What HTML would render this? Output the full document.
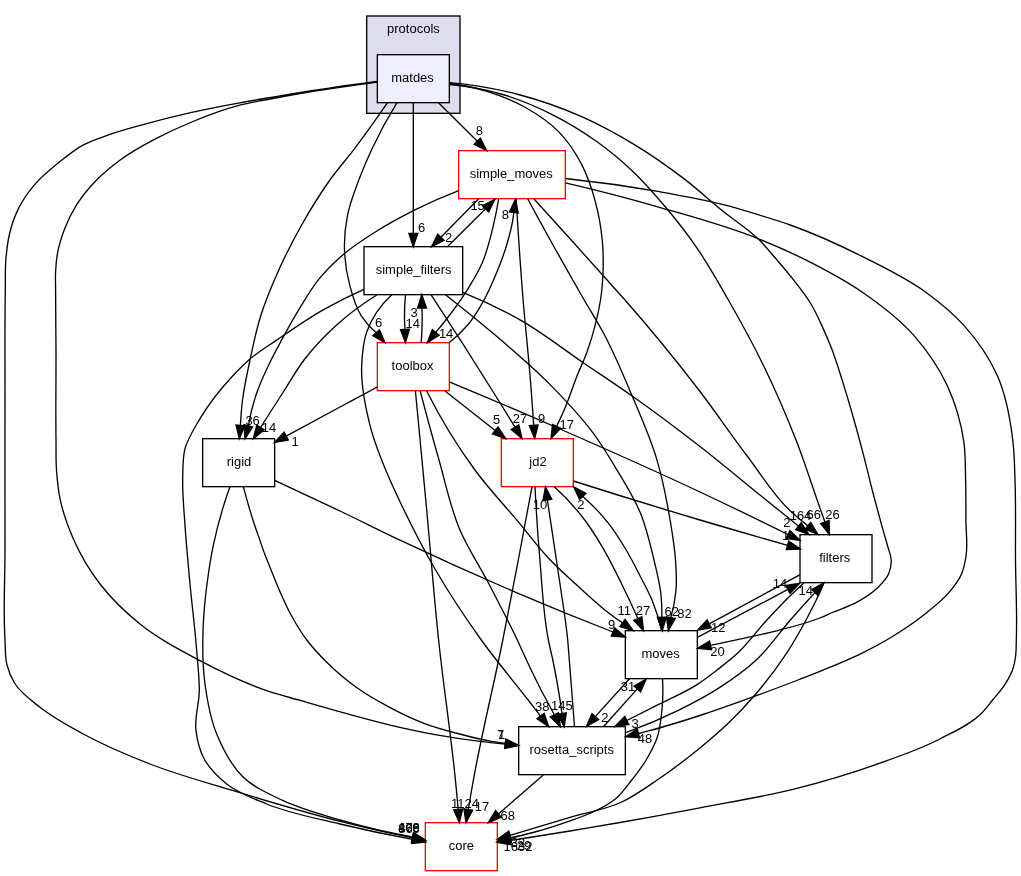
<!DOCTYPE html>
<html><head><meta charset="utf-8"><title>protocols/matdes</title>
<style>
html,body{margin:0;padding:0;background:#fff;}
body{width:1021px;height:876px;overflow:hidden;font-family:"Liberation Sans",sans-serif;}
svg{display:block;will-change:transform}
.t{font-family:"Liberation Sans",sans-serif;font-size:13.33px;fill:#000}
.e{fill:none;stroke:#000;stroke-width:1.33}
.a{fill:#000;stroke:#000;stroke-width:1.33}
</style></head><body>
<svg width="1021" height="876" viewBox="0 0 1021 876">
<rect x="0" y="0" width="1021" height="876" fill="#fff"/>
<rect x="366.7" y="16.0" width="93.3" height="97.3" fill="#ddddee" stroke="#000" stroke-width="1.33"/>
<text transform="translate(413.40,32.80) scale(0.975,1)" text-anchor="middle" class="t">protocols</text>
<rect x="377.33" y="54.67" width="72.00" height="48.00" fill="#eeeeff" stroke="#000" stroke-width="1.33"/>
<text transform="translate(412.53,81.87) scale(0.975,1)" text-anchor="middle" class="t">matdes</text>
<rect x="458.67" y="150.67" width="106.67" height="48.00" fill="#fff" stroke="#ff0000" stroke-width="1.33"/>
<text transform="translate(511.20,177.87) scale(0.975,1)" text-anchor="middle" class="t">simple_moves</text>
<rect x="364.00" y="246.67" width="98.67" height="48.00" fill="#fff" stroke="#000" stroke-width="1.33"/>
<text transform="translate(413.63,273.87) scale(0.975,1)" text-anchor="middle" class="t">simple_filters</text>
<rect x="377.33" y="342.67" width="72.00" height="48.00" fill="#fff" stroke="#ff0000" stroke-width="1.33"/>
<text transform="translate(412.53,369.87) scale(0.975,1)" text-anchor="middle" class="t">toolbox</text>
<rect x="202.67" y="438.67" width="72.00" height="48.00" fill="#fff" stroke="#000" stroke-width="1.33"/>
<text transform="translate(238.97,465.87) scale(0.975,1)" text-anchor="middle" class="t">rigid</text>
<rect x="501.33" y="438.67" width="72.00" height="48.00" fill="#fff" stroke="#ff0000" stroke-width="1.33"/>
<text transform="translate(538.03,465.87) scale(0.975,1)" text-anchor="middle" class="t">jd2</text>
<rect x="800.00" y="534.67" width="72.00" height="48.00" fill="#fff" stroke="#000" stroke-width="1.33"/>
<text transform="translate(834.70,561.87) scale(0.975,1)" text-anchor="middle" class="t">filters</text>
<rect x="625.33" y="630.67" width="72.00" height="48.00" fill="#fff" stroke="#000" stroke-width="1.33"/>
<text transform="translate(660.53,657.87) scale(0.975,1)" text-anchor="middle" class="t">moves</text>
<rect x="518.67" y="726.67" width="106.67" height="48.00" fill="#fff" stroke="#000" stroke-width="1.33"/>
<text transform="translate(571.70,753.87) scale(0.975,1)" text-anchor="middle" class="t">rosetta_scripts</text>
<rect x="425.33" y="822.67" width="72.00" height="48.00" fill="#fff" stroke="#ff0000" stroke-width="1.33"/>
<text transform="translate(461.33,849.87) scale(0.975,1)" text-anchor="middle" class="t">core</text>
<path d="M438.3,102.5 L477.3,141.3" class="e"/>
<polygon points="486.7,150.7 474.1,144.4 480.4,138.1" class="a"/>
<text transform="translate(479.30,135.30) scale(0.975,1)" text-anchor="middle" class="t">8</text>
<path d="M413.3,102.5 L413.3,233.4" class="e"/>
<polygon points="413.3,246.7 408.9,233.4 417.8,233.4" class="a"/>
<text transform="translate(421.70,232.30) scale(0.975,1)" text-anchor="middle" class="t">6</text>
<path d="M397.0,102.7 C387.7,117.7 379.3,133.3 371.8,149.3 C367.1,159.4 362.7,169.6 358.8,180.0 C354.5,191.6 349.9,203.3 347.5,215.3 C345.2,226.8 344.1,238.8 344.5,250.5 C344.9,262.3 346.8,274.4 349.9,285.8 C352.7,296.3 355.7,307.3 361.6,316.3 C365.6,322.3 370.6,328.0 376.2,332.7" class="e"/>
<polygon points="385.0,342.7 372.8,335.7 379.5,329.8" class="a"/>
<text transform="translate(378.60,326.60) scale(0.975,1)" text-anchor="middle" class="t">6</text>
<path d="M387.5,102.7 C376.7,118.5 365.6,134.1 354.0,149.3 C346.1,159.7 337.5,169.4 329.9,180.0 C319.2,195.0 309.5,210.9 300.5,227.0 C292.0,242.3 284.0,258.0 277.0,274.0 C270.9,287.8 265.1,301.9 260.6,316.3 C256.1,330.6 253.1,345.3 250.0,360.0 C247.2,373.3 244.2,386.6 242.5,400.0 C241.5,408.4 240.8,416.9 240.4,425.4" class="e"/>
<polygon points="239.3,438.7 236.0,425.0 244.8,425.8" class="a"/>
<text transform="translate(249.00,424.60) scale(0.975,1)" text-anchor="middle" class="t">3</text>
<path d="M449.4,83.5 C462.1,84.9 474.8,87.6 487.0,91.3 C499.9,95.3 512.8,100.4 524.6,107.0 C536.9,113.9 549.4,122.0 559.1,132.1 C567.8,141.1 575.2,152.2 581.1,163.4 C587.3,175.2 591.7,188.2 595.2,201.1 C598.8,214.3 601.2,228.1 602.4,241.8 C603.3,252.2 603.4,262.8 603.0,273.2 C602.6,282.2 601.9,291.1 600.5,300.0 C599.4,307.1 597.9,314.1 596.2,321.1 C593.7,331.5 590.7,341.9 587.0,352.0 C584.1,360.1 580.2,367.9 577.0,375.9 C572.8,386.5 569.5,397.5 565.0,408.0 C562.4,414.2 559.5,420.3 556.6,426.4" class="e"/>
<polygon points="551.0,438.5 552.5,424.5 560.6,428.2" class="a"/>
<text transform="translate(566.70,429.30) scale(0.975,1)" text-anchor="middle" class="t">17</text>
<path d="M449.4,84.5 C467.4,86.1 485.4,89.4 502.7,94.5 C518.8,99.2 534.6,105.9 549.7,113.3 C566.0,121.3 581.9,130.9 596.7,141.5 C610.0,151.0 622.6,161.6 634.4,172.9 C645.6,183.6 655.7,195.4 665.7,207.3 C676.7,220.4 687.3,234.0 697.0,248.1 C708.5,264.7 718.3,282.5 728.4,300.0 C740.7,321.5 752.7,343.3 763.5,365.5 C775.7,390.6 786.8,416.3 796.9,442.3 C805.4,464.3 812.4,486.9 820.3,509.1 C821.8,513.4 823.4,517.7 824.9,522.0" class="e"/>
<polygon points="829.4,534.5 820.7,523.5 829.1,520.5" class="a"/>
<text transform="translate(832.40,518.60) scale(0.975,1)" text-anchor="middle" class="t">26</text>
<path d="M449.4,82.6 C472.7,84.6 495.9,88.6 518.4,94.5 C539.7,100.1 560.9,107.5 581.1,116.4 C599.4,124.5 617.2,134.2 634.4,144.6 C651.7,155.1 668.4,166.8 684.5,179.1 C697.4,189.0 709.4,200.2 722.1,210.5 C734.5,220.6 748.4,229.0 759.7,240.3 C765.8,246.5 771.3,253.4 777.0,260.0 C782.8,266.8 788.6,273.6 794.1,280.6 C800.1,288.3 806.3,296.1 811.3,304.5 C815.2,311.1 818.4,318.1 821.6,325.1 C825.3,333.0 828.7,341.0 831.8,349.1 C835.7,359.2 838.8,369.6 842.1,379.9 C845.7,391.3 849.1,402.7 852.4,414.2 C856.0,426.7 859.4,439.2 862.7,451.8 C866.3,465.5 869.4,479.3 873.0,493.0 C876.3,505.6 879.7,518.1 883.2,530.6 C884.7,536.0 886.4,541.3 887.8,546.7 C889.1,551.5 891.3,556.3 891.3,561.1 C891.3,565.2 890.3,569.6 888.8,573.4 C886.5,578.9 881.8,583.5 877.5,587.8 C871.6,593.6 864.3,598.2 857.0,602.2 C849.2,606.5 840.5,609.0 832.3,612.5 C828.1,614.3 824.0,616.3 819.8,618.0 C805.9,623.6 791.2,627.1 776.7,630.8 C763.7,634.1 750.6,636.7 737.5,639.6 C728.5,641.6 719.5,643.5 710.5,645.4" class="e"/>
<polygon points="697.5,648.2 709.6,641.0 711.5,649.7" class="a"/>
<text transform="translate(717.50,656.40) scale(0.975,1)" text-anchor="middle" class="t">20</text>
<path d="M377.3,82.0 C364.9,83.7 352.4,85.5 340.0,87.3 C326.7,89.3 313.3,91.2 300.0,93.5 C290.0,95.2 280.0,97.1 270.0,99.0 C259.9,101.0 249.7,102.6 239.8,105.2 C223.4,109.4 207.4,115.5 191.8,122.0 C179.6,127.0 167.6,132.5 155.9,138.7 C143.5,145.2 131.1,152.0 119.9,160.3 C111.5,166.5 103.2,173.2 95.9,180.7 C88.8,188.0 82.1,196.1 76.7,204.7 C72.0,212.2 67.9,220.4 64.7,228.7 C61.7,236.4 59.1,244.5 57.6,252.7 C56.4,259.0 55.9,265.4 55.6,271.8 C55.3,277.9 55.6,283.9 55.6,290.0 C55.6,310.0 55.9,330.0 56.0,350.0 C56.1,380.0 55.6,410.0 56.0,440.0 C56.1,450.0 55.8,460.0 56.5,470.0 C57.2,479.6 58.1,489.3 60.0,498.7 C62.8,512.4 67.7,525.9 73.3,538.7 C80.3,554.7 89.4,570.2 100.0,584.0 C111.4,598.8 125.4,612.2 140.0,624.0 C158.1,638.6 179.3,649.7 200.0,660.7 C221.5,672.1 243.7,682.9 266.7,690.7 C277.6,694.4 288.9,697.2 300.0,700.4 C315.0,704.7 330.0,709.1 345.0,713.2 C360.0,717.3 375.0,721.5 390.1,725.1 C405.0,728.6 420.0,731.9 435.1,734.6 C450.1,737.3 465.1,739.6 480.2,741.4 C488.5,742.4 496.9,743.3 505.2,744.0" class="e"/>
<polygon points="518.5,745.4 504.8,748.4 505.7,739.6" class="a"/>
<text transform="translate(500.50,739.20) scale(0.975,1)" text-anchor="middle" class="t">7</text>
<path d="M377.3,81.5 C364.9,83.1 352.4,84.7 340.0,86.5 C331.1,87.8 322.3,89.1 313.4,90.5 C302.3,92.2 291.1,94.1 280.0,96.0 C266.6,98.2 253.2,100.4 239.8,102.8 C223.8,105.7 207.7,108.8 191.8,112.4 C175.7,116.0 159.8,120.0 143.9,124.4 C131.8,127.8 119.7,131.0 107.9,135.2 C99.8,138.1 91.4,140.7 83.9,144.7 C75.4,149.2 67.6,155.5 60.0,161.5 C51.6,168.2 43.0,175.1 36.0,183.1 C29.6,190.4 23.6,198.5 19.2,207.1 C14.9,215.3 11.8,224.5 9.6,233.5 C7.7,241.3 6.8,249.5 6.0,257.5 C5.0,268.3 5.5,279.2 5.3,290.0 C4.7,326.7 5.1,363.3 5.0,400.0 C4.9,450.0 5.0,500.0 5.0,550.0 C5.0,580.0 3.1,610.1 5.0,640.0 C5.5,648.3 4.9,657.0 7.0,665.0 C8.6,671.2 11.2,677.5 14.5,683.0 C20.4,692.9 30.9,700.0 40.0,707.3 C53.2,717.9 68.4,725.9 83.3,734.0 C104.7,745.6 127.3,755.2 150.0,764.0 C177.1,774.6 205.4,782.2 233.3,790.7 C268.7,801.5 304.1,812.3 340.0,821.3 C364.0,827.3 388.2,832.8 412.5,837.8" class="e"/>
<polygon points="425.5,840.7 411.5,842.1 413.5,833.4" class="a"/>
<text transform="translate(409.00,832.10) scale(0.975,1)" text-anchor="middle" class="t">479</text>
<path d="M478.5,199.0 L440.9,237.2" class="e"/>
<polygon points="431.5,246.7 437.7,234.1 444.0,240.3" class="a"/>
<text transform="translate(448.70,242.10) scale(0.975,1)" text-anchor="middle" class="t">2</text>
<path d="M447.4,246.7 L485.6,208.7" class="e"/>
<polygon points="495.0,199.3 488.7,211.9 482.4,205.6" class="a"/>
<text transform="translate(477.60,210.10) scale(0.975,1)" text-anchor="middle" class="t">15</text>
<path d="M498.6,199.0 C497.1,208.3 495.3,217.5 493.1,226.6 C490.1,238.9 487.2,251.5 482.2,263.1 C477.8,273.3 471.7,283.0 465.7,292.4 C460.1,301.2 453.8,309.7 447.4,318.0 C443.6,322.9 439.7,327.7 435.7,332.4" class="e"/>
<polygon points="427.3,342.7 432.3,329.6 439.2,335.2" class="a"/>
<text transform="translate(446.10,337.70) scale(0.975,1)" text-anchor="middle" class="t">14</text>
<path d="M449.3,342.5 C455.9,337.4 462.1,331.6 467.5,325.3 C473.2,318.6 477.8,310.9 482.2,303.3 C487.9,293.4 492.5,282.9 496.8,272.3 C501.0,262.1 504.8,251.8 507.8,241.2 C510.0,233.4 512.1,225.5 513.2,217.4 C513.4,215.8 513.6,214.2 513.8,212.5" class="e"/>
<polygon points="515.4,199.3 518.2,213.1 509.4,212.0" class="a"/>
<text transform="translate(505.40,218.90) scale(0.975,1)" text-anchor="middle" class="t">8</text>
<path d="M516.2,199.0 C518.1,232.7 520.4,266.4 523.1,300.0 C525.2,325.1 528.0,350.2 530.0,375.3 C531.4,391.9 532.6,408.6 533.7,425.2" class="e"/>
<polygon points="534.7,438.5 529.3,425.5 538.1,424.9" class="a"/>
<text transform="translate(541.70,423.30) scale(0.975,1)" text-anchor="middle" class="t">9</text>
<path d="M527.8,199.0 C536.1,214.4 544.5,229.7 553.0,245.0 C563.3,263.4 573.7,281.7 584.2,300.0 C590.9,311.6 598.1,323.0 604.4,334.8 C614.7,354.3 623.2,374.8 631.8,395.1 C640.6,415.9 649.9,436.6 656.4,458.1 C662.5,478.3 666.6,499.2 670.1,520.0 C672.3,533.3 674.6,546.6 675.5,560.0 C676.2,570.0 676.9,580.1 676.0,590.0 C675.2,599.3 673.4,608.6 670.8,617.6" class="e"/>
<polygon points="668.4,630.7 666.5,616.8 675.2,618.4" class="a"/>
<text transform="translate(684.50,617.90) scale(0.975,1)" text-anchor="middle" class="t">82</text>
<path d="M534.0,199.0 C558.5,225.9 582.8,252.9 607.1,280.0 C613.1,286.7 619.1,293.3 625.0,300.0 C651.1,329.6 676.0,360.2 700.0,391.5 C716.1,412.5 730.8,434.5 746.8,455.5 C761.0,474.2 773.2,494.8 790.2,510.8 C795.8,516.1 801.7,521.1 807.9,525.9" class="e"/>
<polygon points="818.0,534.5 805.0,529.2 810.7,522.5" class="a"/>
<text transform="translate(813.80,518.60) scale(0.975,1)" text-anchor="middle" class="t">66</text>
<path d="M565.4,182.9 C596.9,190.2 628.3,198.3 659.4,207.3 C693.1,217.0 727.2,226.1 759.7,239.3 C778.0,246.7 796.1,254.8 813.6,263.9 C830.1,272.5 846.7,281.4 862.0,292.0 C880.5,304.7 899.1,318.7 913.8,335.4 C926.9,350.3 938.8,367.5 947.2,385.5 C955.4,403.2 961.2,422.9 963.9,442.3 C965.6,454.7 965.3,467.4 965.6,480.0 C966.0,493.3 965.9,506.7 965.9,520.0 C965.9,532.3 968.0,544.9 965.9,557.0 C965.0,562.5 963.9,568.3 961.8,573.4 C959.0,580.1 954.2,586.2 949.5,591.9 C943.1,599.7 934.8,606.1 926.9,612.5 C917.8,619.9 908.0,626.7 898.1,633.0 C886.2,640.6 873.7,647.4 861.1,653.6 C847.7,660.2 833.8,665.7 820.0,671.3 C812.7,674.3 805.3,677.1 798.0,680.0 C784.4,685.3 770.8,690.4 757.1,695.4 C737.6,702.5 718.1,709.6 698.4,716.0 C682.2,721.2 665.9,726.4 649.4,730.7 C645.8,731.6 642.1,732.6 638.4,733.5" class="e"/>
<polygon points="625.5,736.7 637.3,729.1 639.5,737.8" class="a"/>
<text transform="translate(645.00,742.60) scale(0.975,1)" text-anchor="middle" class="t">48</text>
<path d="M565.4,178.5 C596.9,181.8 628.3,186.2 659.4,191.7 C680.8,195.5 702.3,199.3 723.4,204.7 C735.6,207.8 747.7,211.5 759.7,215.2 C769.9,218.3 780.1,221.4 790.2,225.0 C815.4,233.9 839.8,245.2 863.7,257.2 C884.8,267.8 906.5,278.1 925.5,292.0 C939.1,302.0 952.7,312.9 963.9,325.4 C977.2,340.2 989.2,357.5 997.3,375.5 C1006.5,396.0 1010.4,419.7 1013.0,442.3 C1014.5,454.8 1014.5,467.4 1015.0,480.0 C1016.0,506.6 1015.3,533.3 1015.5,560.0 C1015.7,586.7 1017.3,613.4 1016.3,640.0 C1016.1,645.7 1016.3,651.4 1015.5,657.0 C1015.0,660.7 1014.3,664.5 1013.2,668.0 C1011.4,673.8 1008.2,679.3 1005.0,684.4 C1001.5,690.0 996.8,694.9 992.6,700.0 C988.9,704.5 985.4,709.4 981.3,713.5 C970.0,724.9 954.1,731.5 939.8,739.0 C919.5,749.6 897.4,756.9 875.8,764.6 C849.6,773.9 822.8,781.8 795.9,788.6 C764.3,796.6 732.0,801.7 700.0,807.8 C673.4,812.9 646.7,817.8 620.0,822.5 C603.3,825.4 586.7,828.3 570.0,831.0 C554.3,833.6 538.7,836.0 523.0,838.5 C518.8,839.2 514.6,839.8 510.5,840.4" class="e"/>
<polygon points="497.3,842.5 509.8,836.1 511.2,844.8" class="a"/>
<text transform="translate(524.00,849.60) scale(0.975,1)" text-anchor="middle" class="t">29</text>
<path d="M458.7,190.6 C443.3,196.5 428.1,203.2 413.4,210.6 C400.6,217.1 387.9,224.0 375.7,231.7 C365.2,238.3 354.7,245.0 345.2,252.9 C335.9,260.7 327.0,269.3 319.3,278.7 C312.2,287.4 306.4,297.3 300.5,306.9 C293.8,317.7 287.7,328.8 281.7,339.9 C278.1,346.6 274.4,353.2 271.1,360.0 C265.5,371.4 260.0,383.0 256.0,395.0 C252.7,405.0 250.1,415.4 248.3,425.8" class="e"/>
<polygon points="245.0,438.7 243.9,424.7 252.6,426.9" class="a"/>
<text transform="translate(256.00,424.60) scale(0.975,1)" text-anchor="middle" class="t">6</text>
<path d="M405.5,294.7 C404.7,302.4 404.4,310.2 404.5,318.0 C404.5,321.8 404.7,325.6 405.0,329.4" class="e"/>
<polygon points="405.5,342.7 400.5,329.6 409.4,329.2" class="a"/>
<text transform="translate(412.70,327.60) scale(0.975,1)" text-anchor="middle" class="t">14</text>
<path d="M421.2,342.7 C421.9,334.6 422.2,326.4 422.2,318.2 C422.2,314.8 422.1,311.4 422.0,308.0" class="e"/>
<polygon points="421.8,294.7 426.5,308.0 417.6,308.1" class="a"/>
<text transform="translate(414.00,317.00) scale(0.975,1)" text-anchor="middle" class="t">3</text>
<path d="M376.9,295.0 C362.3,303.9 348.4,314.3 335.8,325.7 C324.3,336.1 313.4,347.7 304.0,360.0 C296.3,370.1 290.2,381.3 283.3,392.0 C275.7,403.8 268.1,415.6 260.5,427.5" class="e"/>
<polygon points="253.3,438.7 256.8,425.1 264.2,429.9" class="a"/>
<text transform="translate(269.00,431.60) scale(0.975,1)" text-anchor="middle" class="t">14</text>
<path d="M431.0,294.7 C453.4,328.9 475.4,363.3 497.0,398.0 C503.0,407.7 509.0,417.4 515.0,427.2" class="e"/>
<polygon points="522.0,438.5 511.2,429.5 518.8,424.8" class="a"/>
<text transform="translate(520.00,422.60) scale(0.975,1)" text-anchor="middle" class="t">27</text>
<path d="M462.7,292.3 C483.2,300.5 503.1,310.2 522.2,321.1 C543.2,333.2 562.4,348.5 582.5,362.2 C598.9,373.4 615.6,384.3 631.8,395.8 C654.9,412.1 677.6,429.1 700.0,446.5 C720.3,462.3 740.0,478.8 760.0,495.0 C772.8,505.4 785.6,515.7 798.4,526.1" class="e"/>
<polygon points="808.8,534.5 795.6,529.6 801.2,522.7" class="a"/>
<text transform="translate(800.50,519.90) scale(0.975,1)" text-anchor="middle" class="t">164</text>
<path d="M445.5,294.7 C462.2,307.7 478.7,321.1 494.8,334.8 C513.5,350.7 532.4,366.6 549.6,384.1 C565.0,399.7 580.4,415.8 593.4,433.4 C602.4,445.6 610.3,458.7 618.1,471.8 C625.9,484.9 634.1,498.0 640.0,512.0 C646.4,527.3 650.1,543.8 654.0,560.0 C656.7,571.6 659.8,583.2 661.0,595.0 C661.7,602.4 662.0,609.9 661.8,617.4" class="e"/>
<polygon points="662.3,630.7 657.4,617.5 666.3,617.2" class="a"/>
<text transform="translate(671.80,616.00) scale(0.975,1)" text-anchor="middle" class="t">62</text>
<path d="M391.8,294.7 C380.8,304.9 371.6,318.2 366.7,332.0 C363.1,342.3 362.2,354.2 361.7,365.3 C360.8,385.3 365.1,405.8 370.0,425.3 C374.7,444.0 382.3,462.2 390.0,480.0 C393.2,487.3 396.6,494.5 400.0,501.7 C411.0,524.9 422.7,547.8 435.6,570.0 C449.6,594.1 465.1,617.4 481.3,640.0 C496.6,661.3 513.7,681.2 529.7,702.0 C533.3,706.7 537.0,711.4 540.6,716.1" class="e"/>
<polygon points="548.7,726.7 537.0,718.8 544.1,713.4" class="a"/>
<text transform="translate(542.20,711.00) scale(0.975,1)" text-anchor="middle" class="t">38</text>
<path d="M364.0,289.3 C350.3,295.3 337.0,302.0 324.0,309.3 C307.7,318.5 292.4,329.3 277.0,339.9 C267.5,346.4 257.5,352.4 248.8,360.0 C243.3,364.8 238.3,370.0 233.3,375.3 C220.9,388.6 209.3,403.1 200.0,418.7 C194.3,428.3 187.8,438.1 185.0,448.7 C182.5,458.2 183.0,468.7 182.7,478.7 C182.3,494.2 184.0,509.8 185.0,525.3 C186.3,544.9 188.2,564.4 190.0,584.0 C192.1,606.2 195.0,628.4 196.7,650.7 C197.7,664.0 199.4,677.4 199.3,690.7 C199.2,704.0 194.3,717.6 196.0,730.7 C197.1,739.7 199.3,749.3 203.3,757.3 C208.5,767.6 217.7,776.7 226.7,784.0 C238.1,793.2 253.0,798.3 266.7,804.0 C290.0,813.6 315.4,818.1 340.0,824.0 C364.0,829.8 388.2,834.9 412.5,839.3" class="e"/>
<polygon points="425.5,842.0 411.5,843.6 413.4,834.9" class="a"/>
<text transform="translate(409.00,832.60) scale(0.975,1)" text-anchor="middle" class="t">866</text>
<path d="M377.3,387.0 C364.9,393.6 352.4,400.3 340.0,407.0 C322.0,416.7 304.1,426.4 286.2,436.1" class="e"/>
<polygon points="274.5,442.5 284.1,432.2 288.3,440.1" class="a"/>
<text transform="translate(295.00,445.60) scale(0.975,1)" text-anchor="middle" class="t">1</text>
<path d="M445.0,391.0 L495.2,430.5" class="e"/>
<polygon points="505.7,438.7 492.5,434.0 498.0,427.0" class="a"/>
<text transform="translate(496.70,423.90) scale(0.975,1)" text-anchor="middle" class="t">5</text>
<path d="M449.3,381.8 C486.3,397.2 523.2,412.9 560.0,429.0 C606.9,449.5 653.7,470.2 700.0,492.0 C729.5,505.9 758.8,520.0 788.0,534.5" class="e"/>
<polygon points="800.0,540.3 786.1,538.5 789.9,530.5" class="a"/>
<text transform="translate(786.80,527.10) scale(0.975,1)" text-anchor="middle" class="t">2</text>
<path d="M426.7,391.0 C440.3,418.2 456.3,444.5 474.2,469.0 C487.8,487.7 503.9,504.6 518.7,522.4 C528.6,534.3 537.8,546.8 548.4,558.0 C558.3,568.6 569.2,578.3 580.0,588.0 C589.8,596.9 599.5,606.0 610.0,614.0 C614.1,617.1 618.2,620.1 622.5,622.9" class="e"/>
<polygon points="633.3,630.7 619.9,626.6 625.1,619.3" class="a"/>
<text transform="translate(624.30,614.60) scale(0.975,1)" text-anchor="middle" class="t">11</text>
<path d="M420.2,391.0 C426.2,414.1 432.5,437.1 439.0,460.0 C445.5,482.9 450.2,506.6 459.3,528.4 C467.4,547.7 479.3,565.4 489.0,584.0 C498.6,602.6 508.3,621.1 517.3,640.0 C521.5,648.9 525.4,658.1 529.7,667.0 C537.4,683.2 545.6,699.1 554.3,714.8" class="e"/>
<polygon points="560.4,726.7 550.3,716.9 558.3,712.8" class="a"/>
<text transform="translate(558.30,710.30) scale(0.975,1)" text-anchor="middle" class="t">14</text>
<path d="M415.4,391.0 C419.2,430.7 423.0,470.3 426.7,510.0 C430.7,553.3 434.0,596.7 438.6,640.0 C443.5,686.7 450.8,733.2 455.4,779.9 C456.4,789.7 457.3,799.6 458.2,809.4" class="e"/>
<polygon points="459.4,822.7 453.7,809.8 462.6,809.0" class="a"/>
<text transform="translate(465.00,808.00) scale(0.975,1)" text-anchor="middle" class="t">1124</text>
<path d="M274.7,480.3 C296.5,490.4 318.3,500.6 340.0,511.0 C360.1,520.6 379.9,530.7 400.0,540.2 C439.2,558.8 478.8,576.6 518.7,593.6 C549.9,606.9 581.3,619.7 613.0,632.0" class="e"/>
<polygon points="625.3,637.0 611.3,636.1 614.6,627.9" class="a"/>
<text transform="translate(611.70,628.60) scale(0.975,1)" text-anchor="middle" class="t">9</text>
<path d="M243.3,486.7 C252.0,519.9 263.2,552.5 276.7,584.0 C280.9,593.8 285.0,603.7 290.0,613.0 C295.0,622.3 300.4,631.6 306.8,640.0 C312.8,648.0 319.8,655.4 327.0,662.5 C336.1,671.5 345.9,679.9 356.3,687.3 C366.9,694.9 378.5,701.5 390.1,707.6 C401.1,713.4 412.3,718.9 423.9,723.3 C434.9,727.5 446.3,730.5 457.7,733.5 C468.8,736.5 480.0,739.4 491.4,741.4 C496.0,742.2 500.7,742.9 505.3,743.5" class="e"/>
<polygon points="518.5,745.4 504.7,747.9 506.0,739.1" class="a"/>
<text transform="translate(501.50,739.20) scale(0.975,1)" text-anchor="middle" class="t">1</text>
<path d="M230.0,486.5 C223.1,505.7 217.5,525.4 213.3,545.3 C210.6,558.1 208.7,571.0 207.0,584.0 C205.3,597.3 203.9,610.6 203.3,624.0 C202.4,644.0 202.3,664.3 205.0,684.0 C207.3,700.9 210.3,718.4 216.7,734.0 C223.1,749.5 231.4,765.9 243.3,777.3 C254.1,787.7 269.4,794.1 283.3,800.7 C301.3,809.2 320.9,814.4 340.0,820.0 C363.8,827.0 388.1,832.6 412.5,837.0" class="e"/>
<polygon points="425.5,840.0 411.5,841.3 413.5,832.6" class="a"/>
<text transform="translate(409.00,831.60) scale(0.975,1)" text-anchor="middle" class="t">106</text>
<path d="M573.4,481.0 C615.5,494.4 657.7,507.4 700.0,520.0 C729.1,528.6 758.3,537.1 787.5,545.3" class="e"/>
<polygon points="800.3,549.0 786.3,549.6 788.7,541.0" class="a"/>
<text transform="translate(785.50,539.60) scale(0.975,1)" text-anchor="middle" class="t">1</text>
<path d="M554.3,486.8 C566.1,497.4 576.8,509.3 586.2,522.0 C591.9,529.7 596.9,538.0 601.8,546.2 C609.1,558.4 615.4,571.2 621.7,584.0 C627.3,595.4 632.7,607.0 637.9,618.6" class="e"/>
<polygon points="643.5,630.7 633.8,620.5 641.9,616.7" class="a"/>
<text transform="translate(643.00,614.60) scale(0.975,1)" text-anchor="middle" class="t">27</text>
<path d="M535.0,486.8 C536.2,511.2 537.8,535.6 539.9,560.0 C542.2,586.7 543.2,613.7 548.4,640.0 C549.7,646.7 551.4,653.3 552.8,660.0 C556.5,677.7 559.5,695.6 562.0,713.6" class="e"/>
<polygon points="564.2,726.7 557.6,714.3 566.3,712.8" class="a"/>
<text transform="translate(569.10,710.30) scale(0.975,1)" text-anchor="middle" class="t">5</text>
<path d="M532.0,486.8 C527.5,511.2 522.9,535.6 518.3,560.0 C513.2,586.7 508.1,613.4 502.8,640.0 C493.5,686.7 481.8,733.0 473.4,779.9 C471.6,789.8 469.9,799.7 468.3,809.6" class="e"/>
<polygon points="466.0,822.7 463.9,808.8 472.7,810.3" class="a"/>
<text transform="translate(482.00,810.80) scale(0.975,1)" text-anchor="middle" class="t">17</text>
<path d="M799.7,574.9 L709.2,623.9" class="e"/>
<polygon points="697.5,630.2 707.1,619.9 711.3,627.8" class="a"/>
<text transform="translate(718.20,632.30) scale(0.975,1)" text-anchor="middle" class="t">12</text>
<path d="M803.9,583.0 C799.2,587.2 794.5,591.6 790.0,596.0 C782.0,603.7 774.4,611.9 766.9,620.0 C756.8,630.9 748.4,643.3 737.5,653.3 C731.0,659.3 724.0,664.6 717.0,670.0 C710.5,675.0 703.9,680.1 697.0,684.6 C685.1,692.3 671.8,697.7 659.2,704.2 C648.4,709.7 637.6,715.1 626.8,720.5" class="e"/>
<polygon points="614.9,726.5 624.8,716.5 628.8,724.5" class="a"/>
<text transform="translate(635.00,728.10) scale(0.975,1)" text-anchor="middle" class="t">3</text>
<path d="M824.0,583.0 C818.6,595.6 812.6,607.9 806.1,620.0 C800.0,631.3 793.6,642.6 786.5,653.3 C777.5,666.9 767.6,680.1 757.1,692.5 C747.9,703.4 738.0,713.9 727.7,723.8 C718.4,732.7 708.4,741.1 698.4,749.3 C685.1,760.1 671.4,770.4 657.2,780.0 C645.7,787.8 634.3,796.1 621.8,802.0 C605.6,809.6 587.3,812.3 570.0,817.4 C556.7,821.4 543.3,825.3 530.0,829.3 C523.3,831.3 516.7,833.3 510.1,835.3" class="e"/>
<polygon points="497.3,839.2 508.8,831.1 511.3,839.6" class="a"/>
<text transform="translate(518.00,846.60) scale(0.975,1)" text-anchor="middle" class="t">32</text>
<path d="M661.6,630.5 C659.3,620.1 656.0,609.8 652.0,600.0 C648.6,591.7 644.1,583.8 640.0,575.8 C635.2,566.4 630.5,557.0 625.0,548.0 C619.7,539.2 614.1,530.4 607.7,522.4 C600.3,513.1 591.9,504.3 582.8,496.4" class="e"/>
<polygon points="573.6,486.8 586.0,493.3 579.6,499.5" class="a"/>
<text transform="translate(580.80,508.60) scale(0.975,1)" text-anchor="middle" class="t">2</text>
<path d="M697.0,637.6 L787.9,589.4" class="e"/>
<polygon points="799.7,583.2 790.0,593.4 785.8,585.5" class="a"/>
<text transform="translate(780.00,588.10) scale(0.975,1)" text-anchor="middle" class="t">14</text>
<path d="M629.5,678.7 L595.3,716.6" class="e"/>
<polygon points="586.4,726.5 592.0,713.6 598.6,719.6" class="a"/>
<text transform="translate(604.90,721.50) scale(0.975,1)" text-anchor="middle" class="t">2</text>
<path d="M662.5,678.7 C663.1,688.5 663.0,698.4 662.1,708.1 C661.2,718.0 660.3,728.2 657.2,737.5 C654.5,745.7 650.0,753.6 645.5,761.0 C641.4,767.6 636.6,773.9 631.8,780.0 C626.7,786.5 621.9,793.5 615.7,798.7 C608.8,804.5 600.2,808.6 592.0,812.5 C584.9,815.8 577.4,818.3 570.0,820.9 C558.5,825.0 546.8,828.8 535.0,832.0 C526.8,834.2 518.6,836.3 510.2,838.0" class="e"/>
<polygon points="497.3,841.2 509.2,833.7 511.3,842.4" class="a"/>
<text transform="translate(518.00,850.60) scale(0.975,1)" text-anchor="middle" class="t">1632</text>
<path d="M574.5,726.7 C572.8,704.5 571.1,682.2 569.3,660.0 C568.8,653.3 568.3,646.7 567.7,640.0 C565.9,621.2 562.7,602.7 560.0,584.0 C556.0,556.0 551.8,528.0 547.4,500.0" class="e"/>
<polygon points="545.4,486.8 551.8,499.3 543.0,500.6" class="a"/>
<text transform="translate(540.00,509.30) scale(0.975,1)" text-anchor="middle" class="t">10</text>
<path d="M603.6,726.5 L637.3,688.9" class="e"/>
<polygon points="646.2,679.0 640.6,691.9 634.0,686.0" class="a"/>
<text transform="translate(628.00,690.60) scale(0.975,1)" text-anchor="middle" class="t">31</text>
<path d="M625.8,732.6 C643.9,726.1 661.6,718.6 678.8,710.1 C692.1,703.5 705.4,696.6 717.9,688.6 C731.6,679.8 745.2,670.3 757.1,659.2 C769.5,647.6 779.1,632.9 790.4,620.0 C796.9,612.6 803.4,605.2 810.0,598.0 C811.7,596.2 813.3,594.4 815.0,592.6" class="e"/>
<polygon points="824.0,582.8 818.2,595.6 811.7,589.6" class="a"/>
<text transform="translate(805.70,595.20) scale(0.975,1)" text-anchor="middle" class="t">14</text>
<path d="M543.3,775.0 L498.4,814.0" class="e"/>
<polygon points="488.3,822.7 495.5,810.6 501.3,817.3" class="a"/>
<text transform="translate(507.70,820.30) scale(0.975,1)" text-anchor="middle" class="t">68</text>
</svg>
</body></html>
